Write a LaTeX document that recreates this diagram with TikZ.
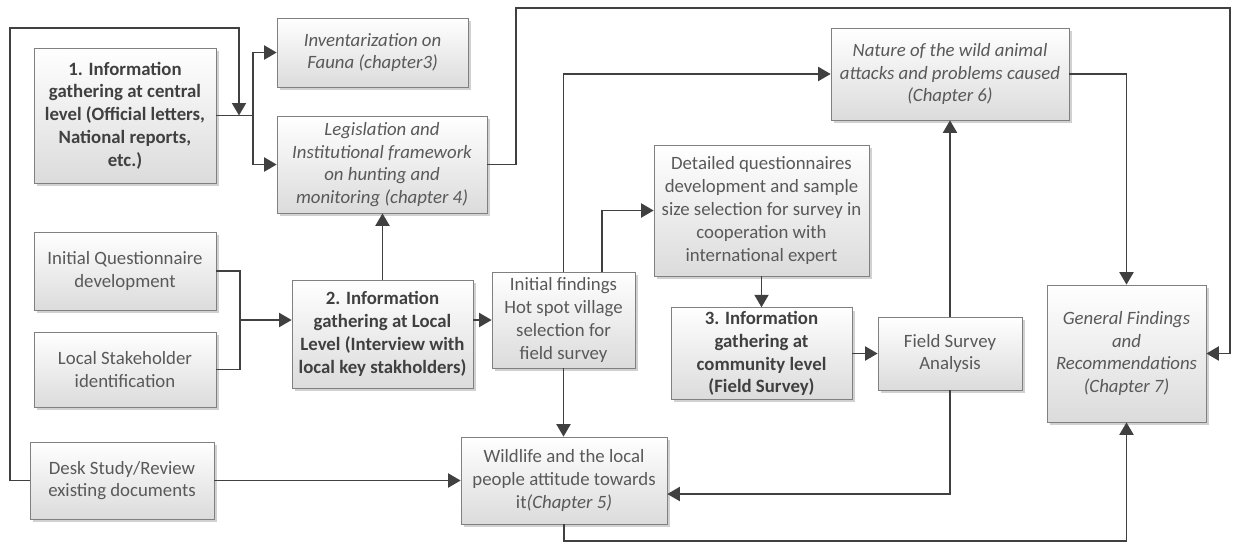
\documentclass[tikz,border=0pt]{standalone}
\usepackage{fontspec}
\setmainfont{Carlito}
\usetikzlibrary{arrows.meta,shadows}
\definecolor{linegray}{HTML}{404040}
\definecolor{boxgray}{HTML}{808080}
\definecolor{txtgray}{HTML}{595959}
\tikzset{box/.style={draw=boxgray, thin, align=center, inner sep=2pt,
         top color=white, bottom color=black!14, text=txtgray,
         font=\fontsize{10.7}{13}\selectfont,
         drop shadow={shadow xshift=0.06cm, shadow yshift=-0.06cm, fill=black, opacity=.18}},
         stage/.style={box, text=linegray, font=\fontsize{10.7}{13}\selectfont\bfseries},
         result/.style={box, font=\fontsize{10.7}{13}\selectfont\itshape},
         line/.style={draw=linegray, line width=1.1pt},
         arr/.style={line, -{Triangle[length=0.25cm,width=0.28cm]}}}

\begin{document}
\begin{tikzpicture}[x=0.02cm, y=-0.02cm]
    \useasboundingbox (0,0) rectangle (1235,542);

    \node[stage, minimum width=3.64cm, minimum height=2.70cm] (cent) at (125,115.5)
      {1. Information\\gathering at central\\level (Official letters,\\National reports,\\etc.)};
    \node[result, minimum width=3.82cm, minimum height=1.38cm] (inv) at (372.5,52.5)
      {Inventarization on\\Fauna (chapter3)};
    \node[result, minimum width=4.20cm, minimum height=1.94cm] (leg) at (382,164.5)
      {Legislation and\\Institutional framework\\on hunting and\\monitoring (chapter 4)};
    \node[box, minimum width=3.64cm, minimum height=1.56cm] (quest) at (125,271)
      {Initial Questionnaire\\development};
    \node[box, minimum width=3.64cm, minimum height=1.50cm] (stake) at (125,369.5)
      {Local Stakeholder\\identification};
    \node[box, minimum width=3.68cm, minimum height=1.54cm] (desk) at (122,480.5)
      {Desk Study/Review\\existing documents};
    \node[stage, minimum width=3.62cm, minimum height=2.16cm] (loc) at (382.5,334)
      {2. Information\\gathering at Local\\Level (Interview with\\local key stakholders)};
    \node[box, minimum width=2.86cm, minimum height=1.92cm] (find) at (563.5,320)
      {Initial findings\\Hot spot village\\selection for\\field survey};
    \node[box, minimum width=4.30cm, minimum height=2.62cm] (det) at (761.5,210.5)
      {Detailed questionnaires\\development and sample\\size selection for survey in\\cooperation with\\international expert};
    \node[stage, minimum width=3.62cm, minimum height=1.74cm] (com) at (761.5,353.5)
      {3. Information\\gathering at\\community level\\(Field Survey)};
    \node[box, minimum width=2.88cm, minimum height=1.46cm] (fsa) at (950,353.5)
      {Field Survey\\Analysis};
    \node[box, minimum width=4.12cm, minimum height=1.74cm] (wild) at (564,480.5)
      {Wildlife and the local\\people attitude towards\\it\textit{(Chapter 5)}};
    \node[result, minimum width=4.76cm, minimum height=1.84cm] (nat) at (950,74)
      {Nature of the wild animal\\attacks and problems caused\\(Chapter 6)};
    \node[result, minimum width=3.18cm, minimum height=2.74cm] (gen) at (1126.5,353.5)
      {General Findings\\and\\Recommendations\\(Chapter 7)};

    \coordinate (loop) at (10,28);
    \coordinate (jn) at (239,115.5);
    \coordinate (split) at (253,115.5);
    \coordinate (topA) at (516,8);
    \coordinate (topB) at (1230,8);
    \coordinate (mrg) at (240,320);
    \coordinate (btm) at (564,541);

    \draw[line] (cent.east) -- (split);
    \draw[arr] (split) |- (inv.west);
    \draw[arr] (split) |- (leg.west);
    \draw[arr] (desk.west) -| (loop) -| (jn);
    \draw[arr] (leg.east) -| (topA) -- (topB) |- (gen.east);
    \draw[arr] (loc.north) -- (loc.north |- leg.south);
    \draw[line] (quest.east) -| (mrg);
    \draw[line] (stake.east) -| (mrg);
    \draw[arr] (mrg) -- (mrg -| loc.west);
    \draw[arr] (find.west -| loc.east) -- (find.west);
    \draw[arr] (find.north) |- (nat.west);
    \draw[arr] ([xshift=0.77cm]find.north) |- (det.west);
    \draw[arr] (find.south) -- (find.south |- wild.north);
    \draw[arr] (det.south) -- (com.north);
    \draw[arr] (com.east) -- (fsa.west);
    \draw[arr] (fsa.north) -- (nat.south);
    \draw[arr] (fsa.south) |- ([yshift=-0.27cm]wild.east);
    \draw[arr] (desk.east) -- (wild.west);
    \draw[arr] (wild.south) -- (btm) -| (gen.south);
    \draw[arr] (nat.east) -| (gen.north);
\end{tikzpicture}
\end{document}
